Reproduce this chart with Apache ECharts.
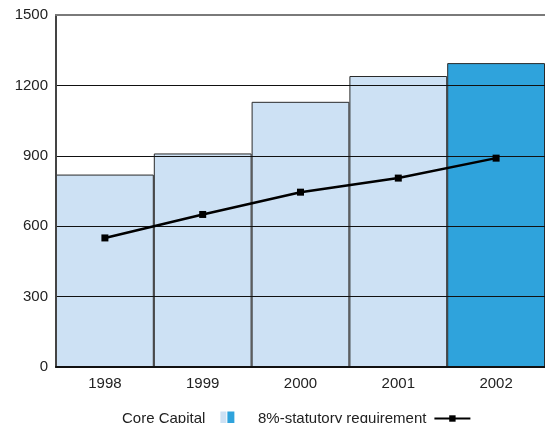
<!DOCTYPE html>
<html>
<head>
<meta charset="utf-8">
<script src="https://cdn.jsdelivr.net/npm/echarts@6/dist/echarts.min.js"></script>
<style>
  html, body { margin: 0; padding: 0; background: #fff; }
  #chart { width: 545px; height: 423px; }
</style>
</head>
<body>
<div id="chart"></div>
<script>
// Core capital against the 8% statutory requirement, 1998-2002
const years = ['1998', '1999', '2000', '2001', '2002'];
const coreCapital = [820, 910, 1130, 1240, 1295];
const statutoryRequirement = [550, 650, 745, 805, 890];
const yTicks = [0, 300, 600, 900, 1200, 1500];

const lightBlue = '#cde1f4';
const darkBlue = '#2fa3dc';
const font = 'Liberation Sans, Arial, Helvetica, sans-serif';
const labelStyle = { fontFamily: font, fontSize: 15, color: '#222' };

const chart = echarts.init(document.getElementById('chart'), null, { renderer: 'canvas' });

// Two-tone legend swatch: left block light, right block dark
const swatchFill = new echarts.graphic.LinearGradient(0, 0, 1, 0, [
  { offset: 0, color: lightBlue },
  { offset: 0.5, color: lightBlue },
  { offset: 0.5, color: darkBlue },
  { offset: 1, color: darkBlue }
]);

chart.setOption({
  animation: false,
  grid: { left: 56, right: 0, top: 15, bottom: 56 },
  legend: [
    {
      top: 411,
      left: 122,
      align: 'right',
      padding: 0,
      itemWidth: 14,
      itemHeight: 14,
      textStyle: Object.assign({ padding: [0, 10, 0, 0] }, labelStyle),
      data: [{
        name: 'Core Capital',
        icon: 'path://M0,0h6v14h-6z M7,0h7v14h-7z',
        itemStyle: { borderWidth: 0 }
      }]
    },
    {
      top: 411,
      left: 258,
      align: 'right',
      padding: 0,
      itemWidth: 36,
      itemHeight: 8,
      textStyle: Object.assign({ padding: [0, 3, 0, 0] }, labelStyle),
      data: ['8%-statutory requirement']
    }
  ],
  xAxis: [
    {
      type: 'category',
      data: years,
      position: 'bottom',
      z: 4,
      axisLine: { lineStyle: { color: '#111', width: 2 } },
      axisTick: { show: false },
      axisLabel: Object.assign({ margin: 9 }, labelStyle)
    },
    {
      type: 'category',
      data: years,
      position: 'top',
      z: 4,
      axisLine: { lineStyle: { color: '#7a7a7a', width: 2 } },
      axisTick: { show: false },
      axisLabel: { show: false }
    }
  ],
  yAxis: {
    type: 'value',
    min: yTicks[0],
    max: yTicks[yTicks.length - 1],
    interval: yTicks[1] - yTicks[0],
    z: 3,
    axisLine: { show: true, lineStyle: { color: '#444', width: 2 } },
    axisTick: { show: false },
    axisLabel: Object.assign({ margin: 8, formatter: v => String(v) }, labelStyle),
    splitLine: { show: true, lineStyle: { color: '#111', width: 1 } }
  },
  series: [
    {
      name: 'Core Capital',
      type: 'bar',
      z: 1,
      barWidth: '100%',
      barCategoryGap: 0,
      itemStyle: { color: swatchFill, borderColor: '#2a2a2a', borderWidth: 1 },
      data: coreCapital.map((v, i) => ({
        value: v,
        itemStyle: { color: i === coreCapital.length - 1 ? darkBlue : lightBlue }
      }))
    },
    {
      name: '8%-statutory requirement',
      type: 'line',
      z: 5,
      data: statutoryRequirement,
      symbol: 'rect',
      symbolSize: 7,
      lineStyle: { color: '#000', width: 2.5 },
      itemStyle: { color: '#000' }
    }
  ]
});
</script>
</body>
</html>
